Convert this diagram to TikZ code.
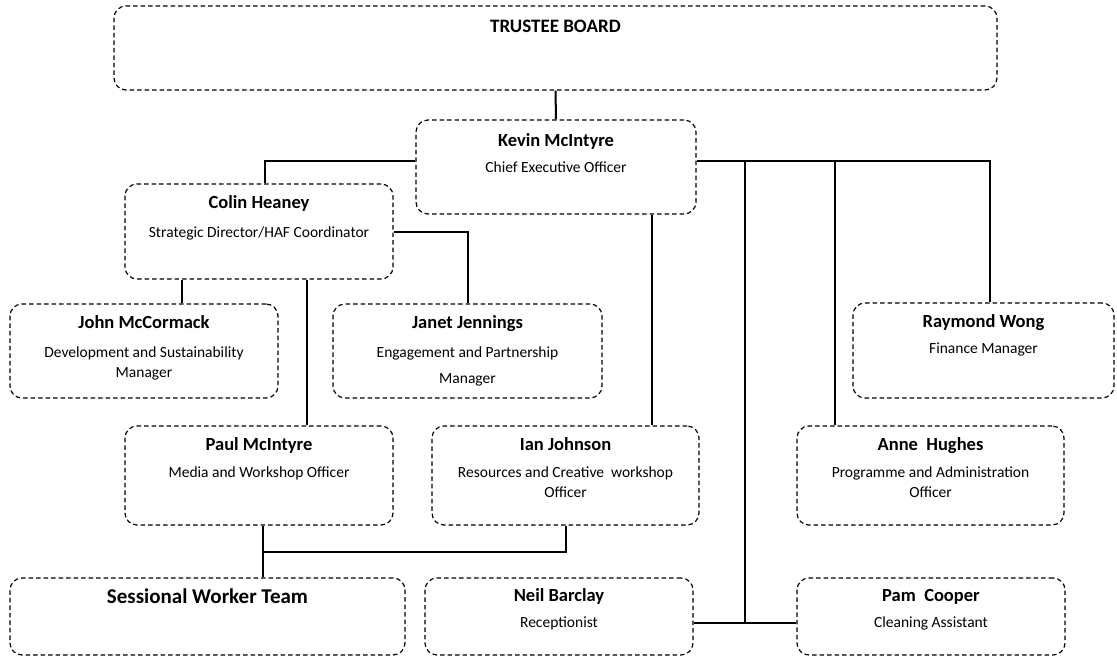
\documentclass[tikz,border=0pt]{standalone}
\usepackage{fontspec}
\setmainfont{Carlito}
\usetikzlibrary{positioning}

\begin{document}
\begin{tikzpicture}[x=1pt, y=-1pt,
    box/.style={draw, dash pattern=on 4.5pt off 3pt, line width=1.2pt, rounded corners=12pt, inner sep=0pt},
    person/.style={font=\bfseries\fontsize{18.5}{20}\selectfont, anchor=base},
    role/.style={font=\fontsize{15.5}{20}\selectfont, anchor=base, align=center},
    link/.style={line width=2pt}]
  \useasboundingbox (0,0) rectangle (1117,657);

  % Boxes
  \node[box, minimum width=883pt, minimum height=84pt] (trustee) at (555.5,48) {};
  \node[box, minimum width=280pt, minimum height=94pt] (kevin) at (556,167) {};
  \node[box, minimum width=268pt, minimum height=95pt] (colin) at (259,231.5) {};
  \node[box, minimum width=268pt, minimum height=94pt] (john) at (144,351) {};
  \node[box, minimum width=269pt, minimum height=94pt] (janet) at (467.5,351) {};
  \node[box, minimum width=261pt, minimum height=95pt] (raymond) at (983.5,350.5) {};
  \node[box, minimum width=268pt, minimum height=99pt] (paul) at (259,475.5) {};
  \node[box, minimum width=267pt, minimum height=99pt] (ian) at (565.5,475.5) {};
  \node[box, minimum width=267pt, minimum height=99pt] (anne) at (930.5,475.5) {};
  \node[box, minimum width=395pt, minimum height=77pt] (sessional) at (207.5,616.5) {};
  \node[box, minimum width=268pt, minimum height=77pt] (neil) at (559,616.5) {};
  \node[box, minimum width=268pt, minimum height=77pt] (pam) at (931,616.5) {};

  % Names and roles (base of the last line for two-line roles)
  \node[person, font=\bfseries\fontsize{19}{20}\selectfont] (trusteename) at ([yshift=-27pt]trustee.north) {TRUSTEE BOARD};
  \node[person] (kevinname) at ([yshift=-27pt]kevin.north) {Kevin McIntyre};
  \node[role] (kevinrole) at ([yshift=-53pt]kevin.north) {Chief Executive Officer};
  \node[person] (colinname) at ([yshift=-25pt]colin.north) {Colin Heaney};
  \node[role] (colinrole) at ([yshift=-54pt]colin.north) {Strategic Director/HAF Coordinator};
  \node[person] (johnname) at ([yshift=-25pt]john.north) {John McCormack};
  \node[role] (johnrole) at ([yshift=-74pt]john.north) {Development and Sustainability\\Manager};
  \node[person] (janetname) at ([yshift=-25pt]janet.north) {Janet Jennings};
  \node[role] (janetrole) at ([yshift=-80pt]janet.north) {Engagement and Partnership\\[6pt]Manager};
  \node[person] (raymondname) at ([yshift=-25pt]raymond.north) {Raymond Wong};
  \node[role] (raymondrole) at ([yshift=-51pt]raymond.north) {Finance Manager};
  \node[person] (paulname) at ([yshift=-25pt]paul.north) {Paul McIntyre};
  \node[role] (paulrole) at ([yshift=-52pt]paul.north) {Media and Workshop Officer};
  \node[person] (ianname) at ([yshift=-25pt]ian.north) {Ian Johnson};
  \node[role] (ianrole) at ([yshift=-72pt]ian.north) {Resources and Creative\ \ workshop\\Officer};
  \node[person] (annename) at ([yshift=-25pt]anne.north) {Anne\ \ Hughes};
  \node[role] (annerole) at ([yshift=-72pt]anne.north) {Programme and Administration\\Officer};
  \node[person, font=\bfseries\fontsize{21}{22}\selectfont] (sessionalname) at ([yshift=-26pt]sessional.north) {Sessional Worker Team};
  \node[person] (neilname) at ([yshift=-24pt]neil.north) {Neil Barclay};
  \node[role] (neilrole) at ([yshift=-50pt]neil.north) {Receptionist};
  \node[person] (pamname) at ([yshift=-24pt]pam.north) {Pam\ \ Cooper};
  \node[role] (pamrole) at ([yshift=-50pt]pam.north) {Cleaning Assistant};

  % Lines of report
  \coordinate (tapA) at (745,161);
  \coordinate (tapB) at (835,161);
  \coordinate (teamjoin) at (263,552);
  \coordinate (deskline) at ([yshift=-6pt]neil.east);

  \draw[link] (trustee.south) -- (kevin.north);
  \draw[link] ([yshift=6pt]kevin.west) -| ([xshift=6pt]colin.north);
  \draw[link] ([yshift=6pt]kevin.east) -| ([xshift=6pt]raymond.north);
  \draw[link] (tapA) -- (tapA |- deskline);
  \draw[link] (tapB) -- (tapB |- anne.north);
  \draw[link] ([xshift=96pt]kevin.south) -- ([xshift=96pt]kevin.south |- ian.north);
  \draw[link] (colin.east) -| (janet.north);
  \draw[link] ([xshift=-77pt]colin.south) -- ([xshift=-77pt]colin.south |- john.north);
  \draw[link] ([xshift=48pt]colin.south) -- ([xshift=48pt]colin.south |- paul.north);
  \draw[link] ([xshift=4pt]paul.south) -- ([xshift=4pt]paul.south |- sessional.north);
  \draw[link] (teamjoin) -| (ian.south);
  \draw[link] (deskline) -- (deskline -| pam.west);
\end{tikzpicture}
\end{document}
